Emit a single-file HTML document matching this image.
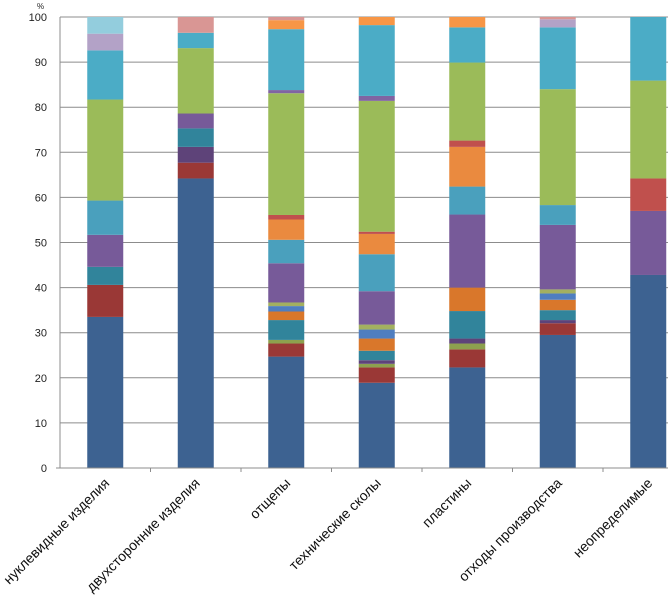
<!DOCTYPE html>
<html><head><meta charset="utf-8"><style>
body{margin:0;background:#fff}
svg{display:block;font-family:"Liberation Sans",sans-serif}
</style></head><body>
<svg id="chart" width="668" height="601" xmlns="http://www.w3.org/2000/svg"></svg>
<script>
const categories=["нуклевидные изделия","двухсторонние изделия","отщепы","технические сколы","пластины","отходы производства","неопределимые"];
const yTicks=[0,10,20,30,40,50,60,70,80,90,100];
const seriesNames=["s-blue","s-darkred","s-olive","s-darkpurple","s-teal","s-orange1","s-blue2","s-olive2","s-purple","s-cyan","s-orange2","s-red","s-green","s-purple2","s-sky","s-orange3","s-lilac","s-pink","s-lightblue"];
const seriesColors=["#3d6291","#9a3836","#8da04e","#5e4379","#31849b","#d9772b","#4f7ec0","#a3b060","#775a99","#4aa0bd","#ea8a3f","#c0504d","#9bbb59","#8064a2","#4bacc6","#f79646","#b3a2c7","#d99694","#93cddd"];
const sBlue=[33.5,64.2,24.7,18.9,22.3,29.5,42.8];
const sDarkred=[7.1,3.5,2.9,3.4,4.0,2.6,0];
const sOlive=[0,0,0.8,0.8,1.3,0,0];
const sDarkpurple=[0,3.5,0,0.8,1.1,0.7,0];
const sTeal=[4.0,4.1,4.4,2.1,6.1,2.2,0];
const sOrange1=[0,0,1.9,2.7,5.2,2.3,0];
const sBlue2=[0,0,1.2,2.0,0,1.4,0];
const sOlive2=[0,0,0.8,1.1,0,0.9,0];
const sPurple=[7.1,3.3,8.7,7.4,16.2,14.3,14.2];
const sCyan=[7.6,0,5.2,8.2,6.2,4.4,0];
const sOrange2=[0,0,4.5,4.5,8.8,0,0];
const sRed=[0,0,1.0,0.5,1.4,0,7.2];
const sGreen=[22.4,14.5,27.0,29.0,17.3,25.7,21.7];
const sPurple2=[0,0,0.7,1.1,0,0,0];
const sSky=[10.9,3.4,13.5,15.7,7.8,13.7,14.1];
const sOrange3=[0,0,2.0,1.8,2.3,0,0];
const sLilac=[3.7,0,0,0,0,1.8,0];
const sPink=[0,3.5,0.7,0,0,0.5,0];
const sLightblue=[3.7,0,0,0,0,0,0];
const seriesValues=[sBlue,sDarkred,sOlive,sDarkpurple,sTeal,sOrange1,sBlue2,sOlive2,sPurple,sCyan,sOrange2,sRed,sGreen,sPurple2,sSky,sOrange3,sLilac,sPink,sLightblue];

const svg=document.getElementById('chart');
const NS="http://www.w3.org/2000/svg";
const L=60,R=668,T=17,B=468,band=90.5,bw=36;
const y=v=>B-(v/100)*(B-T);
const xc=i=>L+band*(i+0.5);
function mk(tag,attrs){const e=document.createElementNS(NS,tag);for(const k in attrs)e.setAttribute(k,attrs[k]);svg.appendChild(e);return e;}
yTicks.forEach(t=>{
  if(t>0){const g=mk('line',{x1:L,x2:R,y1:y(t),y2:y(t),stroke:'#8c8c8c','stroke-width':1});
  
  }
  const tx=mk('text',{x:47,y:y(t)+4,'text-anchor':'end','font-size':11,fill:'#222'});
  tx.textContent=t;
  
  
});
const pct=mk('text',{x:37,y:9,'font-size':8,fill:'#222'});pct.textContent='%';


categories.forEach((c,i)=>{
  let acc=0;
  seriesValues.forEach((arr,s)=>{
    const v=arr[i];if(!v)return;
    const r=mk('rect',{x:xc(i)-bw/2,y:y(acc+v),width:bw,height:y(acc)-y(acc+v),fill:seriesColors[s]});
    
    
    acc+=v;
  });
  const tx=mk('text',{x:xc(i)+5,y:484,'text-anchor':'end','font-size':14,fill:'#111',transform:`rotate(-45 ${xc(i)+5} 484)`});
  tx.textContent=c;
  
  
  const tk=mk('line',{x1:L+band*(i+1),x2:L+band*(i+1),y1:B,y2:B+4,stroke:'#8c8c8c'});
  
  
});
const ax=mk('line',{x1:L,x2:L,y1:T,y2:B,stroke:'#8c8c8c'});


const xa=mk('line',{x1:L-4,x2:R,y1:B,y2:B,stroke:'#8c8c8c'});


</script>
</body></html>
